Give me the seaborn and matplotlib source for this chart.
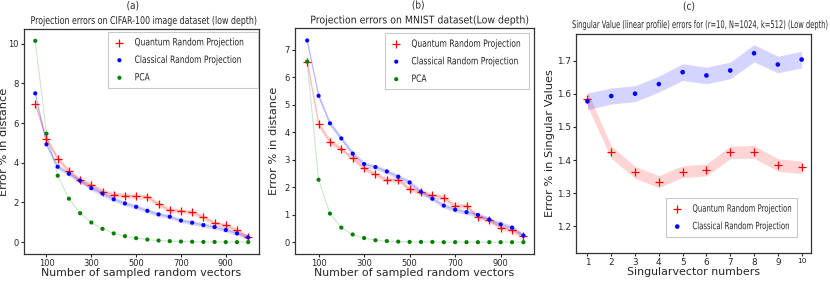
import numpy as np
import pandas as pd
import seaborn as sns
import matplotlib
matplotlib.use("Agg")
from matplotlib import pyplot as plt
from matplotlib.patheffects import AbstractPathEffect
from matplotlib.transforms import Affine2D

# number of sampled random vectors (panels a and b)
n_vectors = [50, 100, 150, 200, 250, 300, 350, 400, 450, 500,
             550, 600, 650, 700, 750, 800, 850, 900, 950, 1000]

# (a) CIFAR-100
cifar_qrp = [6.95, 5.22, 4.21, 3.60, 3.11, 2.88, 2.55, 2.39, 2.35, 2.31,
             2.28, 1.92, 1.62, 1.57, 1.50, 1.26, 0.96, 0.84, 0.59, 0.27]
cifar_crp = [7.50, 4.93, 3.80, 3.45, 3.10, 2.72, 2.45, 2.16, 1.95, 1.78,
             1.58, 1.40, 1.28, 1.09, 0.98, 0.86, 0.76, 0.61, 0.44, 0.24]
cifar_pca = [10.15, 5.47, 3.35, 2.19, 1.46, 0.99, 0.67, 0.44, 0.30, 0.20,
             0.13, 0.08, 0.05, 0.03, 0.02, 0.01, 0.01, 0.0, 0.0, 0.0]
cifar_qrp_err = [0.14, 0.14, 0.14, 0.13, 0.13, 0.13, 0.13, 0.13, 0.13, 0.13,
                 0.13, 0.13, 0.12, 0.12, 0.12, 0.12, 0.12, 0.12, 0.12, 0.12]
cifar_crp_err = [0.12, 0.12, 0.12, 0.12, 0.12, 0.12, 0.12, 0.12, 0.12, 0.12,
                 0.11, 0.11, 0.11, 0.11, 0.11, 0.11, 0.11, 0.11, 0.11, 0.11]

# (b) MNIST
mnist_qrp = [6.56, 4.30, 3.65, 3.39, 3.05, 2.69, 2.46, 2.27, 2.27, 1.93,
             1.81, 1.70, 1.62, 1.32, 1.32, 0.92, 0.81, 0.53, 0.44, 0.21]
mnist_crp = [7.33, 5.32, 4.32, 3.77, 3.22, 2.84, 2.73, 2.57, 2.38, 2.17,
             1.83, 1.58, 1.33, 1.18, 1.09, 0.99, 0.82, 0.65, 0.53, 0.24]
mnist_pca = [6.56, 2.27, 1.04, 0.53, 0.28, 0.15, 0.07, 0.04, 0.02, 0.01,
             0.01, 0.01, 0.0, 0.0, 0.0, 0.0, 0.0, 0.0, 0.0, 0.0]
mnist_qrp_err = [0.10, 0.10, 0.10, 0.09, 0.09, 0.09, 0.09, 0.09, 0.09, 0.09,
                 0.09, 0.09, 0.09, 0.09, 0.09, 0.09, 0.09, 0.09, 0.09, 0.09]
mnist_crp_err = [0.09, 0.09, 0.09, 0.09, 0.09, 0.09, 0.09, 0.09, 0.09, 0.09,
                 0.09, 0.09, 0.09, 0.09, 0.09, 0.09, 0.09, 0.09, 0.09, 0.09]

# (c) singular values
sv_index = [1, 2, 3, 4, 5, 6, 7, 8, 9, 10]
sv_qrp = [1.584, 1.424, 1.363, 1.335, 1.365, 1.370, 1.423, 1.425, 1.385, 1.378]
sv_crp = [1.577, 1.593, 1.600, 1.629, 1.665, 1.655, 1.670, 1.722, 1.688, 1.703]
sv_qrp_err = [0.022, 0.019, 0.018, 0.018, 0.018, 0.018, 0.019, 0.019, 0.019, 0.019]
sv_crp_err = [0.025, 0.024, 0.024, 0.024, 0.025, 0.025, 0.025, 0.026, 0.025, 0.025]


class Squeeze(AbstractPathEffect):
    # narrow the drawn glyphs horizontally (no condensed font installed)
    def __init__(self, sx=None, width=None, anchor="center"):
        super().__init__()
        self.sx, self.width, self.anchor = sx, width, anchor

    def draw_path(self, renderer, gc, tpath, affine, rgbFace=None):
        ext = tpath.get_extents(affine)
        sx = self.sx if self.sx is not None else self.width / max(ext.width, 1)
        x0 = ext.x0 if self.anchor == "left" else (ext.x0 + ext.x1) / 2
        t = affine + Affine2D().translate(-x0, 0).scale(sx, 1).translate(x0, 0)
        renderer.draw_path(gc, tpath, t, rgbFace)


sns.set_style("ticks")
plt.rcParams["font.family"] = ["DejaVu Sans"]

fig = plt.figure(figsize=(8.3, 2.81), dpi=100)
ax_a = fig.add_axes([0.029, 0.096, 0.283, 0.801])
ax_b = fig.add_axes([0.355, 0.096, 0.288, 0.804])
ax_c = fig.add_axes([0.694, 0.100, 0.283, 0.779])


def draw_series(ax, x, y, err, color, marker, label, size, line=True, band_alpha=0.15):
    df = pd.DataFrame({"x": x, "y": y})
    if line:
        sns.lineplot(data=df, x="x", y="y", ax=ax, color=color, lw=0.8, alpha=0.2)
    if err is not None:
        lo = np.array(y) - np.array(err)
        hi = np.array(y) + np.array(err)
        ax.fill_between(x, lo, hi, color=color, alpha=band_alpha, lw=0)
    sns.scatterplot(data=df, x="x", y="y", ax=ax, color=color, marker=marker,
                    s=size, linewidth=0.9 if marker == "+" else 0,
                    edgecolor=color if marker == "+" else "none", label=label, zorder=5)


def style_panel(ax, letter, letter_xy, title, title_x, title_w, title_pad, xlabel, ylabel,
                ylab_x, leg_box, leg_sx, tick_size):
    t = ax.set_title(title, fontsize=7.6, pad=title_pad, x=title_x)
    t.set_path_effects([Squeeze(width=title_w)])
    ax.text(letter_xy[0], letter_xy[1], letter, transform=ax.transAxes, ha="center",
            va="center", fontsize=7.6, path_effects=[Squeeze(sx=0.85)])
    ax.set_xlabel(xlabel, fontsize=7.9, labelpad=0)
    ax.set_ylabel(ylabel, fontsize=8.2)
    ax.yaxis.set_label_coords(ylab_x, 0.5)
    ax.tick_params(labelsize=tick_size, length=2.5, width=0.8, pad=1.2)
    for s in ax.spines.values():
        s.set_color("#333333")
        s.set_linewidth(0.9)
    leg = ax.legend(loc="upper left", bbox_to_anchor=leg_box, mode="expand",
                    borderaxespad=0, frameon=True, fancybox=False,
                    borderpad=0.55, labelspacing=0.75, handletextpad=0.9,
                    handlelength=1.2, prop=dict(size=7.2))
    leg.get_frame().set_edgecolor("#bbbbbb")
    leg.get_frame().set_linewidth(0.8)
    for txt in leg.get_texts():
        txt.set_path_effects([Squeeze(sx=leg_sx, anchor="left")])
    return leg


# (a)
draw_series(ax_a, n_vectors, cifar_qrp, cifar_qrp_err, "red", "+", "Quantum Random Projection", 30)
draw_series(ax_a, n_vectors, cifar_crp, cifar_crp_err, "blue", "o", "Classical Random Projection", 9)
draw_series(ax_a, n_vectors, cifar_pca, None, "green", "o", "PCA", 9)
ax_a.set_xlim(0, 1048)
ax_a.set_ylim(-0.6, 10.75)
ax_a.set_xticks([100, 300, 500, 700, 900])
ax_a.set_yticks([0, 2, 4, 6, 8, 10])
style_panel(ax_a, "(a)", (0.463, 1.102), "Projection errors on CIFAR-100 image dataset (low depth)",
            0.513, 225, 3.6, "Number of sampled random vectors", "Error % in distance", -0.063,
            (0.357, 0.733, 0.639, 0.254), 0.76, 6.0)

# (b)
draw_series(ax_b, n_vectors, mnist_qrp, mnist_qrp_err, "red", "+", "Quantum Random Projection", 30)
draw_series(ax_b, n_vectors, mnist_crp, mnist_crp_err, "blue", "o", "Classical Random Projection", 9)
draw_series(ax_b, n_vectors, mnist_pca, None, "green", "o", "PCA", 9)
ax_b.set_xlim(-5, 1045)
ax_b.set_ylim(-0.43, 7.78)
ax_b.set_xticks([100, 300, 500, 700, 900])
ax_b.set_yticks([0, 1, 2, 3, 4, 5, 6, 7])
style_panel(ax_b, "(b)", (0.517, 1.10), "Projection errors on MNIST dataset(Low depth)",
            0.525, 217, 3.4, "Number of sampled random vectors", "Error % in distance", -0.067,
            (0.377, 0.726, 0.604, 0.251), 0.76, 6.0)

# (c)
draw_series(ax_c, sv_index, sv_qrp, sv_qrp_err, "red", "+", "Quantum Random Projection", 30,
            line=False, band_alpha=0.17)
draw_series(ax_c, sv_index, sv_crp, sv_crp_err, "blue", "o", "Classical Random Projection", 11,
            line=False, band_alpha=0.17)
ax_c.set_xlim(0.52, 10.39)
ax_c.set_ylim(1.12, 1.78)
ax_c.set_xticks(sv_index)
ax_c.set_yticks([1.2, 1.3, 1.4, 1.5, 1.6, 1.7])
style_panel(ax_c, "(c)", (0.481, 1.125),
            "Singular Value (linear profile) errors for (r=10, N=1024, k=512) (Low depth)",
            0.53, 255, 4.3, "Singularvector numbers", "Error % in Singular Values", -0.089,
            (0.382, 0.074, 0.557, 0.176), 0.69, 6.4)
ax_c.get_xticklabels()[-1].set_fontsize(5.3)

fig.savefig("out.png", dpi=100)
